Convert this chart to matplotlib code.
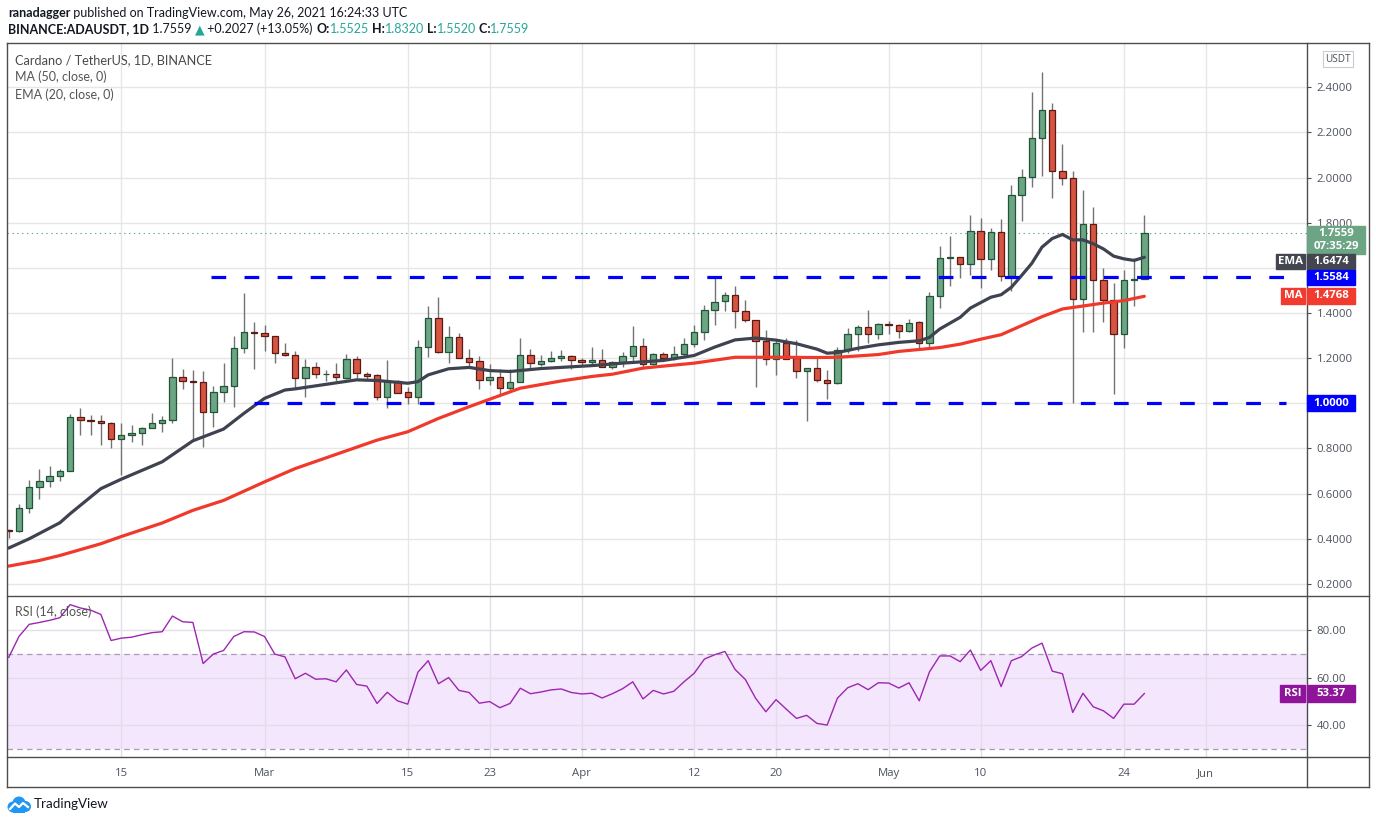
import matplotlib
matplotlib.use("Agg")
import matplotlib.pyplot as plt
import matplotlib.dates as mdates
from matplotlib.patches import Rectangle, Circle
from matplotlib.lines import Line2D
import numpy as np
import pandas as pd

plt.rcParams['font.family'] = ['Lato', 'DejaVu Sans']
plt.rcParams['lines.scale_dashes'] = False

W, H = 1376, 823

# daily ADA/USDT candles, Feb 4 .. May 26 2021
dates = pd.date_range("2021-02-04", "2021-05-26", freq="D")
opens = [0.441, 0.436, 0.538, 0.631, 0.658, 0.676, 0.702, 0.938, 0.924, 0.922,
         0.911, 0.840, 0.859, 0.867, 0.889, 0.911, 0.924, 1.116, 1.099, 1.096,
         0.960, 1.049, 1.076, 1.244, 1.316, 1.311, 1.298, 1.222, 1.212, 1.111,
         1.160, 1.128, 1.129, 1.111, 1.196, 1.129, 1.124, 1.030, 1.098, 1.049,
         1.030, 1.249, 1.378, 1.227, 1.293, 1.200, 1.187, 1.102, 1.116, 1.067,
         1.093, 1.213, 1.173, 1.187, 1.200, 1.209, 1.191, 1.184, 1.191, 1.160,
         1.182, 1.209, 1.253, 1.173, 1.218, 1.200, 1.218, 1.262, 1.316, 1.413,
         1.453, 1.480, 1.409, 1.369, 1.276, 1.196, 1.267, 1.200, 1.142, 1.156,
         1.102, 1.089, 1.236, 1.307, 1.338, 1.307, 1.348, 1.347, 1.320, 1.360,
         1.267, 1.476, 1.644, 1.647, 1.618, 1.764, 1.640, 1.760, 1.564, 1.924,
         2.004, 2.173, 2.298, 2.027, 2.000, 1.462, 1.796, 1.547, 1.458, 1.307,
         1.547, 1.5525]
highs = [0.445, 0.556, 0.662, 0.708, 0.721, 0.711, 0.951, 0.979, 0.948, 0.948,
         0.918, 0.911, 0.902, 0.895, 0.956, 0.944, 1.201, 1.153, 1.148, 1.144,
         1.077, 1.179, 1.299, 1.490, 1.361, 1.348, 1.300, 1.268, 1.232, 1.197,
         1.184, 1.147, 1.178, 1.219, 1.209, 1.138, 1.129, 1.193, 1.102, 1.071,
         1.281, 1.433, 1.473, 1.344, 1.313, 1.240, 1.209, 1.175, 1.151, 1.151,
         1.289, 1.240, 1.213, 1.231, 1.236, 1.213, 1.200, 1.249, 1.240, 1.187,
         1.227, 1.344, 1.289, 1.222, 1.227, 1.253, 1.289, 1.347, 1.436, 1.561,
         1.493, 1.520, 1.458, 1.369, 1.324, 1.284, 1.289, 1.280, 1.156, 1.200,
         1.147, 1.249, 1.333, 1.347, 1.413, 1.356, 1.366, 1.350, 1.373, 1.364,
         1.495, 1.698, 1.742, 1.650, 1.833, 1.822, 1.778, 1.818, 1.969, 2.040,
         2.378, 2.467, 2.329, 2.147, 2.031, 1.947, 1.868, 1.600, 1.533, 1.591,
         1.644, 1.832]
lows = [0.403, 0.430, 0.514, 0.575, 0.630, 0.655, 0.700, 0.861, 0.861, 0.816,
        0.803, 0.683, 0.830, 0.816, 0.889, 0.873, 0.911, 1.065, 0.834, 0.807,
        0.896, 1.007, 0.985, 1.225, 1.150, 1.230, 1.178, 1.209, 1.067, 1.030,
        1.110, 1.101, 1.101, 1.107, 1.111, 1.107, 1.016, 0.981, 1.047, 0.999,
        0.999, 1.203, 1.222, 1.178, 1.200, 1.160, 1.065, 1.079, 1.034, 1.049,
        1.093, 1.156, 1.164, 1.182, 1.187, 1.151, 1.164, 1.175, 1.160, 1.151,
        1.160, 1.187, 1.151, 1.169, 1.196, 1.191, 1.200, 1.249, 1.280, 1.347,
        1.409, 1.333, 1.360, 1.071, 1.169, 1.124, 1.196, 1.111, 0.920, 1.093,
        1.018, 1.084, 1.222, 1.231, 1.267, 1.284, 1.307, 1.289, 1.316, 1.244,
        1.249, 1.422, 1.518, 1.556, 1.569, 1.511, 1.591, 1.542, 1.498, 1.809,
        1.960, 2.009, 1.911, 1.969, 1.003, 1.314, 1.314, 1.359, 1.043, 1.244,
        1.430, 1.552]
closes = [0.436, 0.538, 0.631, 0.658, 0.676, 0.702, 0.938, 0.924, 0.922, 0.911,
          0.840, 0.859, 0.867, 0.889, 0.911, 0.924, 1.116, 1.098, 1.096, 0.960,
          1.049, 1.076, 1.244, 1.316, 1.311, 1.298, 1.222, 1.212, 1.111, 1.160,
          1.129, 1.130, 1.116, 1.196, 1.133, 1.123, 1.030, 1.098, 1.047, 1.030,
          1.249, 1.378, 1.227, 1.293, 1.200, 1.185, 1.102, 1.116, 1.067, 1.093,
          1.213, 1.178, 1.187, 1.200, 1.209, 1.191, 1.184, 1.193, 1.160, 1.182,
          1.209, 1.253, 1.173, 1.218, 1.200, 1.218, 1.262, 1.316, 1.413, 1.449,
          1.480, 1.409, 1.369, 1.276, 1.196, 1.267, 1.196, 1.142, 1.156, 1.102,
          1.089, 1.236, 1.307, 1.338, 1.307, 1.351, 1.346, 1.320, 1.356, 1.267,
          1.476, 1.644, 1.649, 1.618, 1.764, 1.640, 1.760, 1.564, 1.924, 2.004,
          2.173, 2.298, 2.027, 2.000, 1.462, 1.796, 1.547, 1.458, 1.307, 1.547,
          1.5525, 1.7559]

# EMA(20) and MA(50) read at selected candles (candle index, value)
ema_idx = [0, 2, 5, 6, 9, 11, 15, 18, 21, 23, 25, 27, 28, 31, 34, 36, 38, 39, 40,
           41, 43, 45, 47, 49, 52, 57, 60, 64, 67, 69, 71, 73, 75, 77, 79, 80, 81,
           83, 85, 87, 89, 90, 91, 93, 94, 96, 97, 98, 99, 100, 101, 102, 103, 104,
           105, 106, 107, 108, 109, 110, 111]
ema_val = [0.359, 0.400, 0.471, 0.511, 0.622, 0.664, 0.741, 0.834, 0.886, 0.956,
           1.022, 1.059, 1.064, 1.084, 1.104, 1.101, 1.093, 1.089, 1.096, 1.126,
           1.153, 1.159, 1.145, 1.141, 1.154, 1.167, 1.178, 1.190, 1.212, 1.249,
           1.281, 1.289, 1.280, 1.264, 1.240, 1.222, 1.225, 1.244, 1.259, 1.270,
           1.277, 1.292, 1.329, 1.381, 1.422, 1.470, 1.481, 1.514, 1.566, 1.620,
           1.692, 1.730, 1.748, 1.724, 1.724, 1.707, 1.684, 1.652, 1.640, 1.633,
           1.647]
ma_idx = [0, 3, 5, 9, 11, 15, 18, 21, 25, 28, 36, 39, 42, 45, 47, 50, 54, 57, 59,
          62, 67, 71, 75, 79, 81, 85, 87, 91, 93, 95, 97, 99, 101, 103, 105, 107,
          109, 111]
ma_val = [0.279, 0.304, 0.326, 0.378, 0.410, 0.470, 0.526, 0.570, 0.652, 0.711,
          0.837, 0.874, 0.933, 0.985, 1.018, 1.067, 1.099, 1.119, 1.129, 1.156,
          1.178, 1.204, 1.204, 1.203, 1.204, 1.216, 1.230, 1.247, 1.262, 1.284,
          1.304, 1.344, 1.384, 1.418, 1.431, 1.444, 1.455, 1.474]

# RSI(14), one value per candle
rsi = [68.6, 77.4, 82.5, 83.3, 84.2, 85.3, 90.8, 89.4, 88.5, 86.7,
       75.7, 76.7, 77.1, 78.1, 79.0, 79.4, 86.0, 83.6, 83.3, 66.0,
       70.0, 71.5, 77.4, 79.4, 79.3, 77.4, 70.0, 68.8, 59.6, 61.9,
       59.4, 59.6, 58.3, 63.3, 57.2, 56.5, 49.2, 53.9, 50.3, 48.9,
       62.4, 67.2, 57.5, 60.1, 54.7, 53.8, 49.3, 50.0, 47.4, 49.2,
       55.6, 53.3, 54.0, 54.9, 55.3, 53.8, 53.2, 53.5, 51.5, 53.3,
       55.4, 58.3, 51.1, 54.7, 53.2, 54.3, 58.3, 61.9, 67.9, 69.7,
       71.1, 63.5, 59.3, 51.4, 45.7, 50.8, 46.8, 42.9, 44.2, 40.8,
       40.1, 51.4, 55.8, 57.5, 55.0, 57.9, 57.8, 55.7, 57.9, 50.3,
       62.5, 69.2, 69.2, 66.8, 71.7, 63.1, 67.2, 56.3, 67.2, 68.9,
       72.5, 74.6, 62.8, 61.7, 45.4, 53.5, 47.8, 46.1, 42.9, 48.9,
       48.9, 53.37]

# horizontal levels drawn by the author: price and start (candle index)
levels = [1.5584, 1.0]
level_start = [19.8, 24.0]
level_end = 124.8

price_ticks = [0.2, 0.4, 0.6, 0.8, 1.0, 1.2, 1.4, 1.6, 1.8, 2.0, 2.2, 2.4]
hidden_ticks = [1.0, 1.6]   # covered by value tags in the reference
rsi_ticks = [40, 60, 80]
tick_dates = pd.to_datetime(["2021-02-15", "2021-03-01", "2021-03-15", "2021-03-23",
                             "2021-04-01", "2021-04-12", "2021-04-20", "2021-05-01",
                             "2021-05-10", "2021-05-24", "2021-06-01"])
tick_labels = ["15", "Mar", "15", "23", "Apr", "12", "20", "May", "10", "24", "Jun"]

last_close = closes[-1]
ema_last, ma_last = 1.6474, 1.4768

UP, DOWN = "#6ba583", "#d75442"
UP_EDGE, DOWN_EDGE = "#225437", "#5b1a13"
WICK = "#737375"
GRID = "#e6e6e6"
FRAME = "#4d4d4d"
AXTXT = "#4c525e"
RSI_C = "#9c27b0"
NUMFONT = ["Open Sans", "DejaVu Sans"]


def fx(px):
    return px / W


def fy(py):
    return 1 - py / H


def box(x0, y0, x1, y1):
    return [fx(x0), fy(y1), (x1 - x0) / W, (y1 - y0) / H]


fig = plt.figure(figsize=(W / 100, H / 100), dpi=100)
fig.patch.set_facecolor("white")

ax = fig.add_axes(box(7, 43, 1307, 595))
rax = fig.add_axes(box(7, 596, 1307, 757))

xs = mdates.date2num(dates)
o = np.array(opens)
c = np.array(closes)
up = c >= o
x_lo, x_hi = xs[0] - 0.17, xs[0] + 126.9
tx = mdates.date2num(tick_dates)

# ---- price pane ----
ax.vlines(xs, lows, highs, color=WICK, lw=1.0, zorder=3)
body_lo = np.minimum(o, c)
body_h = np.maximum(np.abs(c - o), 0.004)
ax.bar(xs, body_h, bottom=body_lo, width=0.62,
       color=np.where(up, UP, DOWN), edgecolor=np.where(up, UP_EDGE, DOWN_EDGE),
       linewidth=0.9, zorder=4)

ax.plot(xs[ma_idx], ma_val, color="#f0392b", lw=2.3, zorder=5, solid_capstyle="round")
ax.plot(xs[ema_idx], ema_val, color="#3f4350", lw=2.3, zorder=5, solid_capstyle="round")

for lvl, st in zip(levels, level_start):
    ax.plot([xs[0] + st, xs[0] + level_end], [lvl, lvl], color="#0000ff", lw=2.3,
            dashes=(10.6, 13.2), zorder=6, dash_capstyle="butt")

ax.axhline(last_close, color=UP, lw=0.8, ls=(0, (1, 2.5)), zorder=2)

ax.set_xlim(x_lo, x_hi)
ax.set_ylim(0.151, 2.596)
ax.set_xticks(tx)
ax.set_yticks(price_ticks)
ax.set_yticklabels(["" if t in hidden_ticks else f"{t:.4f}" for t in price_ticks])
ax.yaxis.tick_right()
ax.tick_params(axis="x", length=0, labelbottom=False)
ax.tick_params(axis="y", length=3, width=0.8, color=FRAME, labelsize=8.2,
               labelcolor=AXTXT, pad=4)
for lab in ax.get_yticklabels():
    lab.set_family(NUMFONT)
ax.grid(True, color=GRID, lw=1.0)
ax.set_axisbelow(True)
for s in ax.spines.values():
    s.set_visible(False)

# ---- RSI pane ----
rax.axhspan(30, 70, color="#f4e6fd", zorder=0, lw=0)
rax.axhline(70, color="#a79cb3", lw=0.9, ls=(0, (4, 3)), zorder=1)
rax.axhline(30, color="#a79cb3", lw=0.9, ls=(0, (4, 3)), zorder=1)
rax.plot(xs, rsi, color=RSI_C, lw=1.0, zorder=3)
rax.set_xlim(x_lo, x_hi)
rax.set_ylim(26.65, 94.44)
rax.set_yticks(rsi_ticks)
rax.set_yticklabels([f"{t:.2f}" for t in rsi_ticks])
rax.yaxis.tick_right()
rax.set_xticks(tx)
rax.set_xticklabels(tick_labels)
rax.tick_params(axis="x", length=0, labelsize=8.2, labelcolor=AXTXT, pad=8)
rax.tick_params(axis="y", length=3, width=0.8, color=FRAME, labelsize=8.2,
                labelcolor=AXTXT, pad=4)
for lab in rax.get_yticklabels() + rax.get_xticklabels():
    lab.set_family(NUMFONT)
rax.grid(True, color="#e2dde8", lw=1.0)
rax.set_axisbelow(True)
for s in rax.spines.values():
    s.set_visible(False)


# ---- frame lines ----
def fline(x0, y0, x1, y1, color=FRAME, lw=1.0):
    fig.add_artist(Line2D([fx(x0), fx(x1)], [fy(y0), fy(y1)], color=color, lw=lw,
                          transform=fig.transFigure, zorder=2))


fline(7, 43, 1369, 43)
fline(7, 787, 1369, 787)
fline(7, 43, 7, 787)
fline(1369, 43, 1369, 787)
fline(1307, 43, 1307, 787)
fline(7, 595.5, 1369, 595.5)
fline(7, 757, 1369, 757)


# ---- right axis value tags ----
def to_px(axes, yval):
    return H - axes.transData.transform((0, yval))[1]


def tag_text(xc, yc, text):
    fig.text(fx(xc), fy(yc), text, color="white", fontsize=8.2, fontweight="bold",
             ha="center", va="center", zorder=6, family=NUMFONT)


def tag(yc, text, color, h=16, x0=1307, x1=1355, label=None, lx0=None):
    fig.patches.append(Rectangle((fx(x0), fy(yc + h / 2)), (x1 - x0) / W, h / H,
                                 transform=fig.transFigure, color=color, zorder=5))
    tag_text((x0 + x1) / 2, yc, text)
    if label:
        fig.patches.append(Rectangle((fx(lx0), fy(yc + h / 2)), (1305 - lx0) / W, h / H,
                                     transform=fig.transFigure, color=color, zorder=5))
        tag_text((lx0 + 1305) / 2, yc, label)


y_last = to_px(ax, last_close)
fig.patches.append(Rectangle((fx(1307), fy(y_last + 21)), 58 / W, 28 / H,
                             transform=fig.transFigure, color=UP, zorder=5))
tag_text(1336, y_last + 0.5, f"{last_close:.4f}")
tag_text(1336, y_last + 14, "07:35:29")

tag(y_last + 29, f"{ema_last:.4f}", "#434651", h=15, label="EMA", lx0=1276)
tag(to_px(ax, levels[0]), f"{levels[0]:.4f}", "#0000ff", h=15)
tag(to_px(ax, ma_last), f"{ma_last:.4f}", "#f23b2f", h=16, label="MA", lx0=1281)
tag(to_px(ax, levels[1]), f"{levels[1]:.4f}", "#0000ff", h=16)
tag(to_px(rax, rsi[-1]), f"{rsi[-1]:.2f}", "#8e1599", h=17, label="RSI", lx0=1280)

# USDT unit box
fig.patches.append(Rectangle((fx(1323), fy(67)), 30 / W, 16 / H, transform=fig.transFigure,
                             facecolor="white", edgecolor="#c9cbd1", lw=0.8, zorder=5))
fig.text(fx(1338), fy(59), "USDT", color=AXTXT, fontsize=7.2, ha="center", va="center",
         zorder=6, family=NUMFONT)

# ---- pane legends ----
fig.text(fx(15), fy(60), "Cardano / TetherUS, 1D, BINANCE", color="#4a4a4a", fontsize=9.2,
         va="center", ha="left")
fig.text(fx(15), fy(77), "MA (50, close, 0)", color="#555555", fontsize=9.0, va="center")
fig.text(fx(15), fy(95), "EMA (20, close, 0)", color="#555555", fontsize=9.0, va="center")
fig.text(fx(15), fy(612), "RSI (14, close)", color="#555555", fontsize=9.0, va="center")

# ---- header ----
renderer = fig.canvas.get_renderer()


def runs(x, y, pieces, size=9.0):
    for s, color, weight in pieces:
        t = fig.text(fx(x), fy(y), s, color=color, fontsize=size, fontweight=weight,
                     ha="left", va="center")
        x += t.get_window_extent(renderer=renderer).width


INK = "#131722"
TEAL = "#26a69a"
runs(8, 13, [("ranadagger", INK, "bold"),
             (" published on TradingView.com, May 26, 2021 16:24:33 UTC", INK, "normal")])
runs(8, 29, [("BINANCE:ADAUSDT, 1D", INK, "bold"), (" 1.7559 ", INK, "normal"),
             ("\u25b2", TEAL, "normal"), (" +0.2027 (+13.05%) ", INK, "normal"),
             ("O:", INK, "bold"), ("1.5525", TEAL, "normal"),
             (" H:", INK, "bold"), ("1.8320", TEAL, "normal"),
             (" L:", INK, "bold"), ("1.5520", TEAL, "normal"),
             (" C:", INK, "bold"), ("1.7559", TEAL, "normal")])

# ---- TradingView logo ----
lax = fig.add_axes(box(7, 795, 31, 813))
lax.set_xlim(0, 24)
lax.set_ylim(0, 18)
lax.set_aspect("equal")
lax.axis("off")
for cx, cy, r in [(6, 6, 5.5), (12, 10, 6.5), (18.5, 6.5, 5.5)]:
    lax.add_patch(Circle((cx, cy), r, color="#2196f3", lw=0))
lax.add_patch(Rectangle((6, 0.5), 12.5, 6, color="#2196f3", lw=0))
lax.plot([3, 8, 12, 16, 21], [4, 9.5, 6, 10, 6], color="white", lw=1.6,
         solid_joinstyle="round")
fig.text(fx(34), fy(804), "TradingView", color=INK, fontsize=9.6, va="center", ha="left")

fig.savefig("out.png", dpi=100, facecolor="white")
